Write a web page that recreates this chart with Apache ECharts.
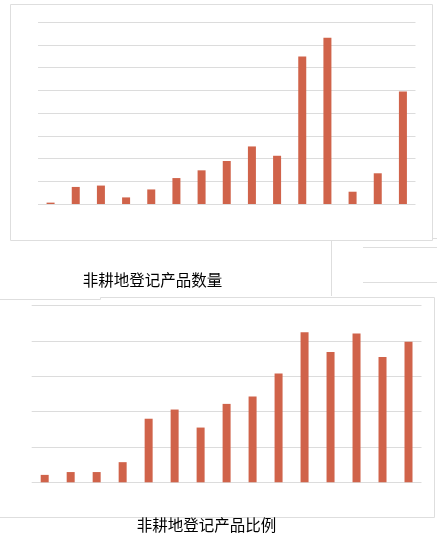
<!DOCTYPE html>
<html>
<head>
<meta charset="utf-8">
<script src="https://cdn.jsdelivr.net/npm/echarts@6/dist/echarts.min.js"></script>
<style>
html,body{margin:0;padding:0;background:#fff;}
#c{width:437px;height:540px;}
</style>
</head>
<body>
<div id="c"></div>
<script>
const categories = ['1','2','3','4','5','6','7','8','9','10','11','12','13','14','15'];
const countValues = [6, 75, 81, 29, 64, 114, 148, 189, 253, 212, 648, 731, 54, 135, 494];
const ratioValues = [2.1, 2.9, 2.9, 5.7, 18.0, 20.6, 15.5, 22.2, 24.3, 30.8, 42.5, 36.9, 42.1, 35.5, 39.8];
const title1 = '非耕地登记产品数量';
const title2 = '非耕地登记产品比例';

const chart = echarts.init(document.getElementById('c'), null, {renderer: 'canvas'});
const barColor = '#d0634a';
const gridColor = '#dcdcdc';
const borderColor = '#dedede';
const lineStyle = {stroke: borderColor, lineWidth: 1};

function ln(x1, y1, x2, y2) {
  return {type: 'line', shape: {x1, y1, x2, y2}, style: lineStyle, silent: true};
}
function txt(text, x, y) {
  return {type: 'text', x, y, silent: true, z: 10,
    style: {text, fill: '#000', fontSize: 15.5, fontFamily: 'Noto Sans CJK SC',
            textAlign: 'center', textVerticalAlign: 'middle'}};
}

chart.setOption({
  backgroundColor: '#fff',
  animation: false,
  graphic: [
    {type: 'rect', shape: {x: 10.5, y: 4.5, width: 422, height: 236}, style: {fill: 'none', stroke: borderColor, lineWidth: 1}, silent: true},
    ln(432, 238.5, 437, 238.5),
    ln(331.5, 240, 331.5, 296),
    ln(363, 247.5, 437, 247.5),
    ln(363, 282.5, 437, 282.5),
    ln(0, 299.5, 100.5, 299.5),
    ln(100.5, 299.5, 100.5, 297.5),
    ln(100.5, 297.5, 434.5, 297.5),
    ln(434.5, 297.5, 434.5, 517.5),
    ln(0, 517.5, 434.5, 517.5),
    txt(title1, 152.5, 280),
    txt(title2, 206.5, 525.5)
  ],
  grid: [
    {left: 38, right: 21.5, top: 22, bottom: 336},
    {left: 31.7, right: 15.5, top: 305.7, bottom: 57.7}
  ],
  xAxis: [
    {type: 'category', gridIndex: 0, data: categories,
     axisLine: {show: false}, axisTick: {show: false}, axisLabel: {show: false}},
    {type: 'category', gridIndex: 1, data: categories,
     axisLine: {show: false}, axisTick: {show: false}, axisLabel: {show: false}}
  ],
  yAxis: [
    {type: 'value', gridIndex: 0, min: 0, max: 800, interval: 100,
     axisLine: {show: false}, axisTick: {show: false}, axisLabel: {show: false},
     splitLine: {show: true, lineStyle: {color: gridColor, width: 1}}},
    {type: 'value', gridIndex: 1, min: 0, max: 50, interval: 10,
     axisLine: {show: false}, axisTick: {show: false}, axisLabel: {show: false},
     splitLine: {show: true, lineStyle: {color: gridColor, width: 1}}}
  ],
  series: [
    {type: 'bar', xAxisIndex: 0, yAxisIndex: 0, data: countValues, barWidth: 8,
     itemStyle: {color: barColor}},
    {type: 'bar', xAxisIndex: 1, yAxisIndex: 1, data: ratioValues, barWidth: 8,
     itemStyle: {color: barColor}}
  ]
});
</script>
</body>
</html>
